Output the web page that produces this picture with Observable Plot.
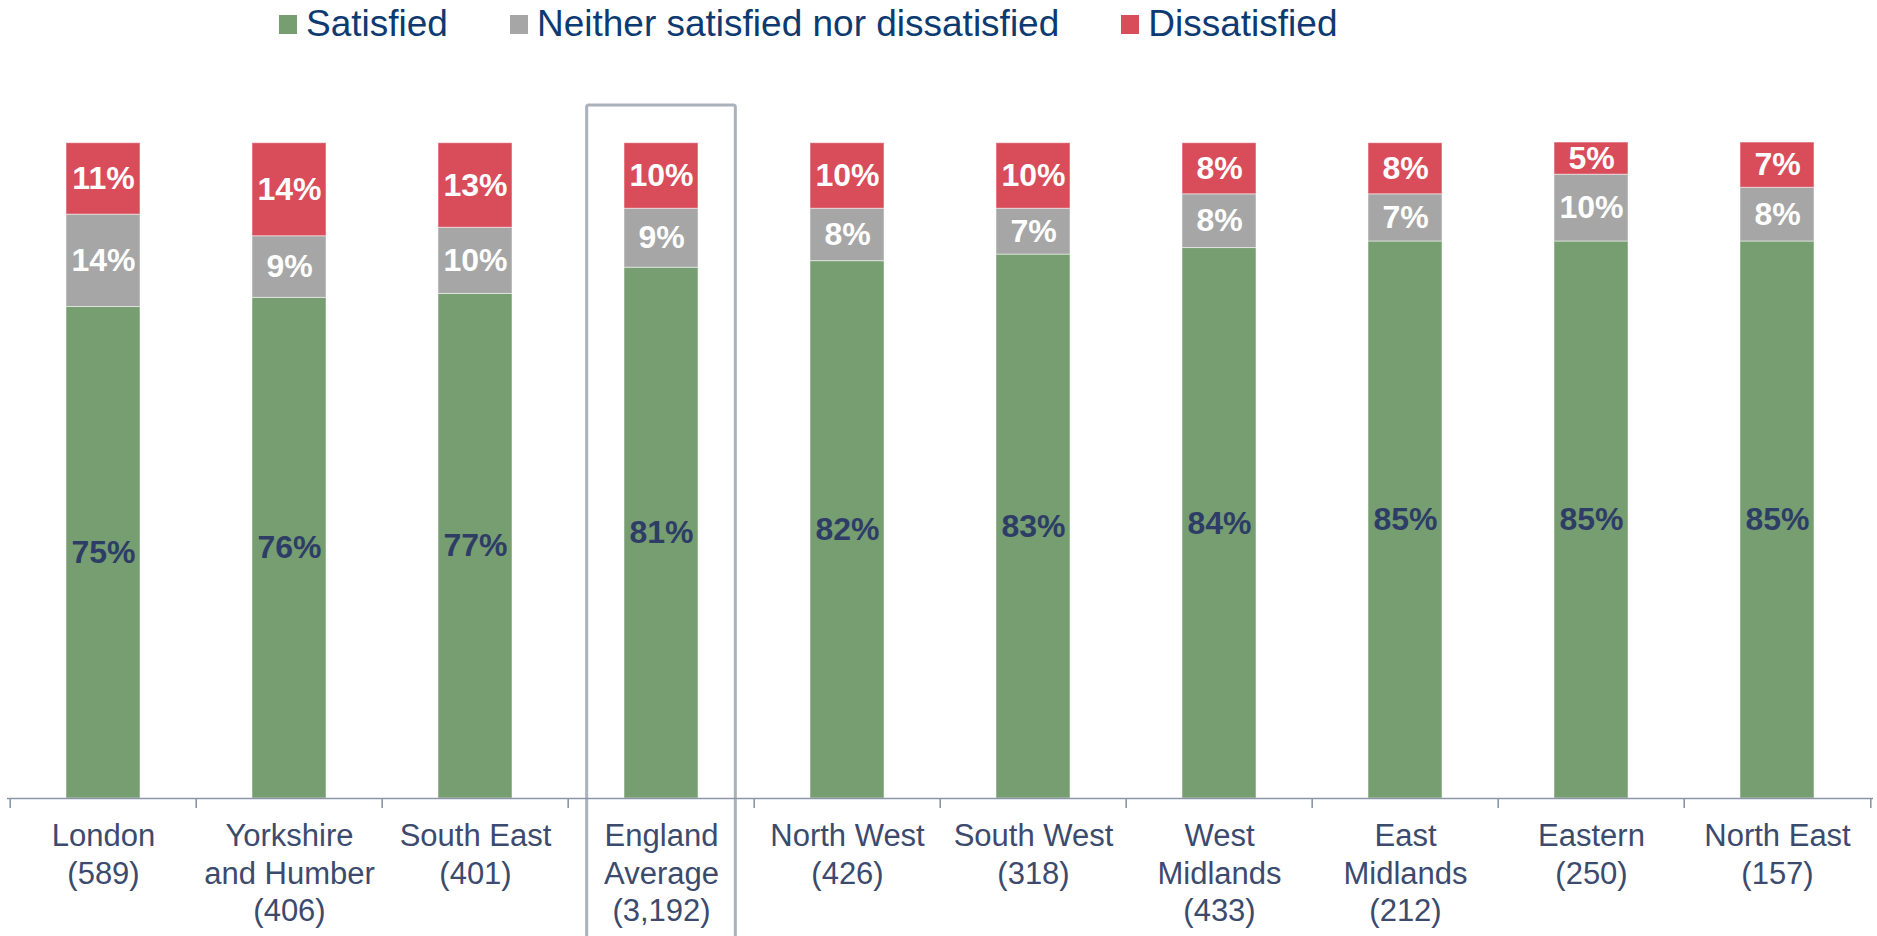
<!DOCTYPE html>
<html><head><meta charset="utf-8">
<script src="https://cdn.jsdelivr.net/npm/d3@7"></script>
<script src="https://cdn.jsdelivr.net/npm/@observablehq/plot@0.6"></script>
<style>
body{margin:0;background:#fff;font-family:"Liberation Sans",Arial,sans-serif;overflow:hidden;}
#legend{height:48px;display:flex;align-items:center;padding-left:279px;}
.item{display:flex;align-items:center;font-size:37px;color:#0d3a70;margin-right:62px;white-space:nowrap;}
.sw{width:18px;height:19px;margin-right:9px;display:inline-block;}
#chart svg{overflow:visible;display:block;}
</style></head>
<body>
<div id="legend"></div>
<div id="chart"></div>
<script>
const regions = ["London","Yorkshire and Humber","South East","England Average","North West","South West","West Midlands","East Midlands","Eastern","North East"];
const tickLabels = ["London\n(589)","Yorkshire\nand Humber\n(406)","South East\n(401)","England\nAverage\n(3,192)","North West\n(426)","South West\n(318)","West\nMidlands\n(433)","East\nMidlands\n(212)","Eastern\n(250)","North East\n(157)"];
const categories = ["Satisfied","Neither satisfied nor dissatisfied","Dissatisfied"];
const satisfied    = [75, 76.4, 77, 81, 82, 83, 84, 85, 85, 85];
const neither      = [14.1, 9.4, 10.1, 9, 8, 7, 8.2, 7.2, 10.2, 8.2];
const dissatisfied = [10.9, 14.2, 12.9, 10, 10, 10, 7.8, 7.8, 4.9, 6.9];
const colors = ["#769e71", "#a6a6a6", "#d94c5a"];
const highlight = "England Average";

const data = regions.flatMap((r, i) => [
  {region: r, category: categories[0], value: satisfied[i]},
  {region: r, category: categories[1], value: neither[i]},
  {region: r, category: categories[2], value: dissatisfied[i]}
]);

// legend
const leg = document.getElementById("legend");
categories.forEach((c, i) => {
  const it = document.createElement("div");
  it.className = "item";
  it.innerHTML = `<span class="sw" style="background:${colors[i]}"></span><span>${c}</span>`;
  leg.appendChild(it);
});

const W = 1877, H = 888, mt = 94.7, mb = 138, ml = 7, mr = 4;
const n = regions.length;
const step = (W - ml - mr) / n;
const padInner = 0.6;
const bw = step * (1 - padInner);
const boxHalf = step * 0.4;
const axisColor = "#8d96a7";
const labelFont = "Liberation Sans, Arial, sans-serif";
const pct = d => Math.round(d.value) + "%";

const chart = Plot.plot({
  width: W, height: H,
  marginTop: mt, marginBottom: mb, marginLeft: ml, marginRight: mr,
  style: {fontFamily: labelFont, background: "white"},
  x: {domain: regions, paddingInner: padInner, paddingOuter: padInner / 2, axis: null},
  y: {domain: [0, 100], axis: null},
  color: {domain: categories, range: colors},
  marks: [
    Plot.barY([highlight], {
      x: d => d, y1: 0, y2: 100, fill: "none", stroke: "#a9b1ba", strokeWidth: 3,
      insetLeft: -(boxHalf - bw / 2), insetRight: -(boxHalf - bw / 2),
      insetTop: -37.7, insetBottom: -(mb + 20), rx: 2
    }),
    Plot.barY(data, {x: "region", y: "value", fill: "category", stroke: "white", strokeOpacity: 0.5, strokeWidth: 1}),
    Plot.ruleY([0], {stroke: axisColor, strokeWidth: 1.6}),
    Plot.ruleX(regions, {x: d => d, dx: -step / 2, stroke: axisColor, strokeWidth: 1.6, insetTop: H - mt - mb, insetBottom: -10}),
    Plot.ruleX([regions[n - 1]], {x: d => d, dx: step / 2, stroke: axisColor, strokeWidth: 1.6, insetTop: H - mt - mb, insetBottom: -10}),
    Plot.text(data, Plot.stackY({
      x: "region", y: "value", z: "category",
      text: d => d.category === categories[0] ? pct(d) : "",
      fill: "#2e3d66", fontSize: 32, fontWeight: "bold"
    })),
    Plot.text(data, Plot.stackY({
      x: "region", y: "value", z: "category",
      text: d => d.category !== categories[0] ? pct(d) : "",
      fill: "white", fontSize: 32, fontWeight: "bold"
    })),
    Plot.axisX({
      label: null,
      tickFormat: d => tickLabels[regions.indexOf(d)],
      tickSize: 0, tickPadding: 21, fontSize: 31, lineHeight: 1.21,
      fill: "#3b4a6d", stroke: null
    })
  ]
});
document.getElementById("chart").appendChild(chart);
</script>
</body></html>
